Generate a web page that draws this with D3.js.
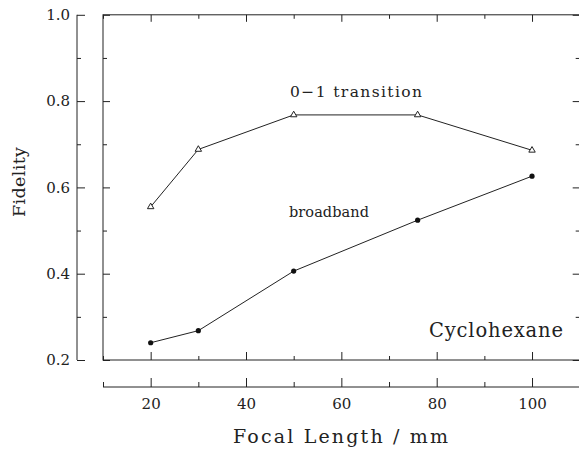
<!DOCTYPE html>
<html>
<head>
<meta charset="utf-8">
<script src="https://cdn.jsdelivr.net/npm/d3@7"></script>
<style>
	body { margin: 0; background: #fff; }
	svg { display: block; }
	.axis text { font-family: "DejaVu Serif", serif; font-size: 15px; fill: #222; }
	.axis path, .axis line { stroke: #222; stroke-width: 1; }
</style>
</head>
<body>
<div id="chart"></div>
<script>
// values
const focal = [20, 30, 50, 76, 100]
const transition01 = [0.555, 0.688, 0.768, 0.768, 0.686]
const broadband = [0.240, 0.268, 0.406, 0.524, 0.626]
const xMajor = [20, 40, 60, 80, 100]
const xMinor = [10, 30, 50, 70, 90, 110]
const yMajor = [0.2, 0.4, 0.6, 0.8, 1.0]
const yMinor = [0.3, 0.5, 0.7, 0.9]

const width = 579, height = 451
const svg = d3.select("#chart").append("svg")
	.attr("width", width)
	.attr("height", height)

const x = d3.scaleLinear().domain([10, 110]).range([103, 579.7])
const y = d3.scaleLinear().domain([0.2, 1.0]).range([360, 14.8])

const frameL = x(10), frameR = x(110), frameT = y(1.0), frameB = y(0.2)

// plot frame
svg.append("rect")
	.attr("x", frameL).attr("y", frameT)
	.attr("width", frameR - frameL).attr("height", frameB - frameT)
	.attr("fill", "none").attr("stroke", "#222")

function ticks(axis, tx, ty) {
	const g = svg.append("g").attr("class", "axis")
		.attr("transform", `translate(${tx},${ty})`)
		.call(axis)
	g.select(".domain").remove()
	return g
}

// inward ticks on the frame
ticks(d3.axisLeft(y).tickValues(yMajor).tickSize(-7).tickFormat(""), frameL, 0)
ticks(d3.axisLeft(y).tickValues(yMinor).tickSize(-4).tickFormat(""), frameL, 0)
ticks(d3.axisRight(y).tickValues(yMajor).tickSize(-7).tickFormat(""), frameR, 0)
ticks(d3.axisRight(y).tickValues(yMinor).tickSize(-4).tickFormat(""), frameR, 0)
ticks(d3.axisTop(x).tickValues(xMajor).tickSize(-7).tickFormat(""), 0, frameT)
ticks(d3.axisTop(x).tickValues(xMinor).tickSize(-4).tickFormat(""), 0, frameT)
ticks(d3.axisBottom(x).tickValues(xMajor).tickSize(-8).tickFormat(""), 0, frameB)
ticks(d3.axisBottom(x).tickValues(xMinor).tickSize(-4).tickFormat(""), 0, frameB)

// offset y axis
const yAxisX = 77
const ya = svg.append("g").attr("class", "axis")
	.attr("transform", `translate(${yAxisX},0)`)
	.call(d3.axisLeft(y).tickValues(yMajor).tickSize(-8).tickPadding(7).tickFormat(d3.format(".1f")))
ya.select(".domain").attr("d", `M0,${frameT}V${frameB}`)
ticks(d3.axisLeft(y).tickValues(yMinor).tickSize(-4).tickFormat(""), yAxisX, 0)

// offset x axis
const xAxisY = 387
const xa = svg.append("g").attr("class", "axis")
	.attr("transform", `translate(0,${xAxisY})`)
	.call(d3.axisBottom(x).tickValues(xMajor).tickSize(-9).tickPadding(11).tickFormat(d3.format("d")))
xa.select(".domain").attr("d", `M${frameL},0H${frameR}`)
ticks(d3.axisBottom(x).tickValues(xMinor).tickSize(-5).tickFormat(""), 0, xAxisY)

// lines
const line = d3.line().x(d => x(d[0])).y(d => y(d[1]))

svg.append("path")
	.datum(d3.zip(focal, transition01))
	.attr("d", line)
	.attr("fill", "none").attr("stroke", "#222").attr("stroke-width", 1)

svg.append("path")
	.datum(d3.zip(focal, broadband))
	.attr("d", line)
	.attr("fill", "none").attr("stroke", "#222").attr("stroke-width", 1)

const tri = d3.symbol().type(d3.symbolTriangle).size(18)
svg.selectAll(".tri")
	.data(d3.zip(focal, transition01))
	.enter().append("path")
		.attr("class", "tri")
		.attr("d", tri)
		.attr("transform", d => `translate(${x(d[0])},${y(d[1])})`)
		.attr("fill", "#fff").attr("stroke", "#222").attr("stroke-width", 1)

svg.selectAll(".dot")
	.data(d3.zip(focal, broadband))
	.enter().append("circle")
		.attr("class", "dot")
		.attr("cx", d => x(d[0]))
		.attr("cy", d => y(d[1]))
		.attr("r", 2.6)
		.attr("fill", "#111")

// labels (widths stretched to match the wide typeface of the original)
const serif = "DejaVu Serif, serif"
function label(txt, px, py, size, len) {
	return svg.append("text")
		.attr("x", px).attr("y", py)
		.attr("font-family", serif).attr("font-size", size).attr("fill", "#222")
		.attr("textLength", len).attr("lengthAdjust", "spacing")
		.text(txt)
}

label("0\u22121 transition", 290, 97, 15.5, 132)
label("broadband", 289, 217, 14.5, 80)
label("Cyclohexane", 429, 337, 19.5, 134)
label("Focal Length / mm", 233, 443, 19, 215)

svg.append("text")
	.attr("transform", `translate(25,217) rotate(-90)`)
	.attr("font-family", serif).attr("font-size", 17.5).attr("fill", "#222")
	.attr("textLength", 70).attr("lengthAdjust", "spacing")
	.text("Fidelity")
</script>
</body>
</html>
